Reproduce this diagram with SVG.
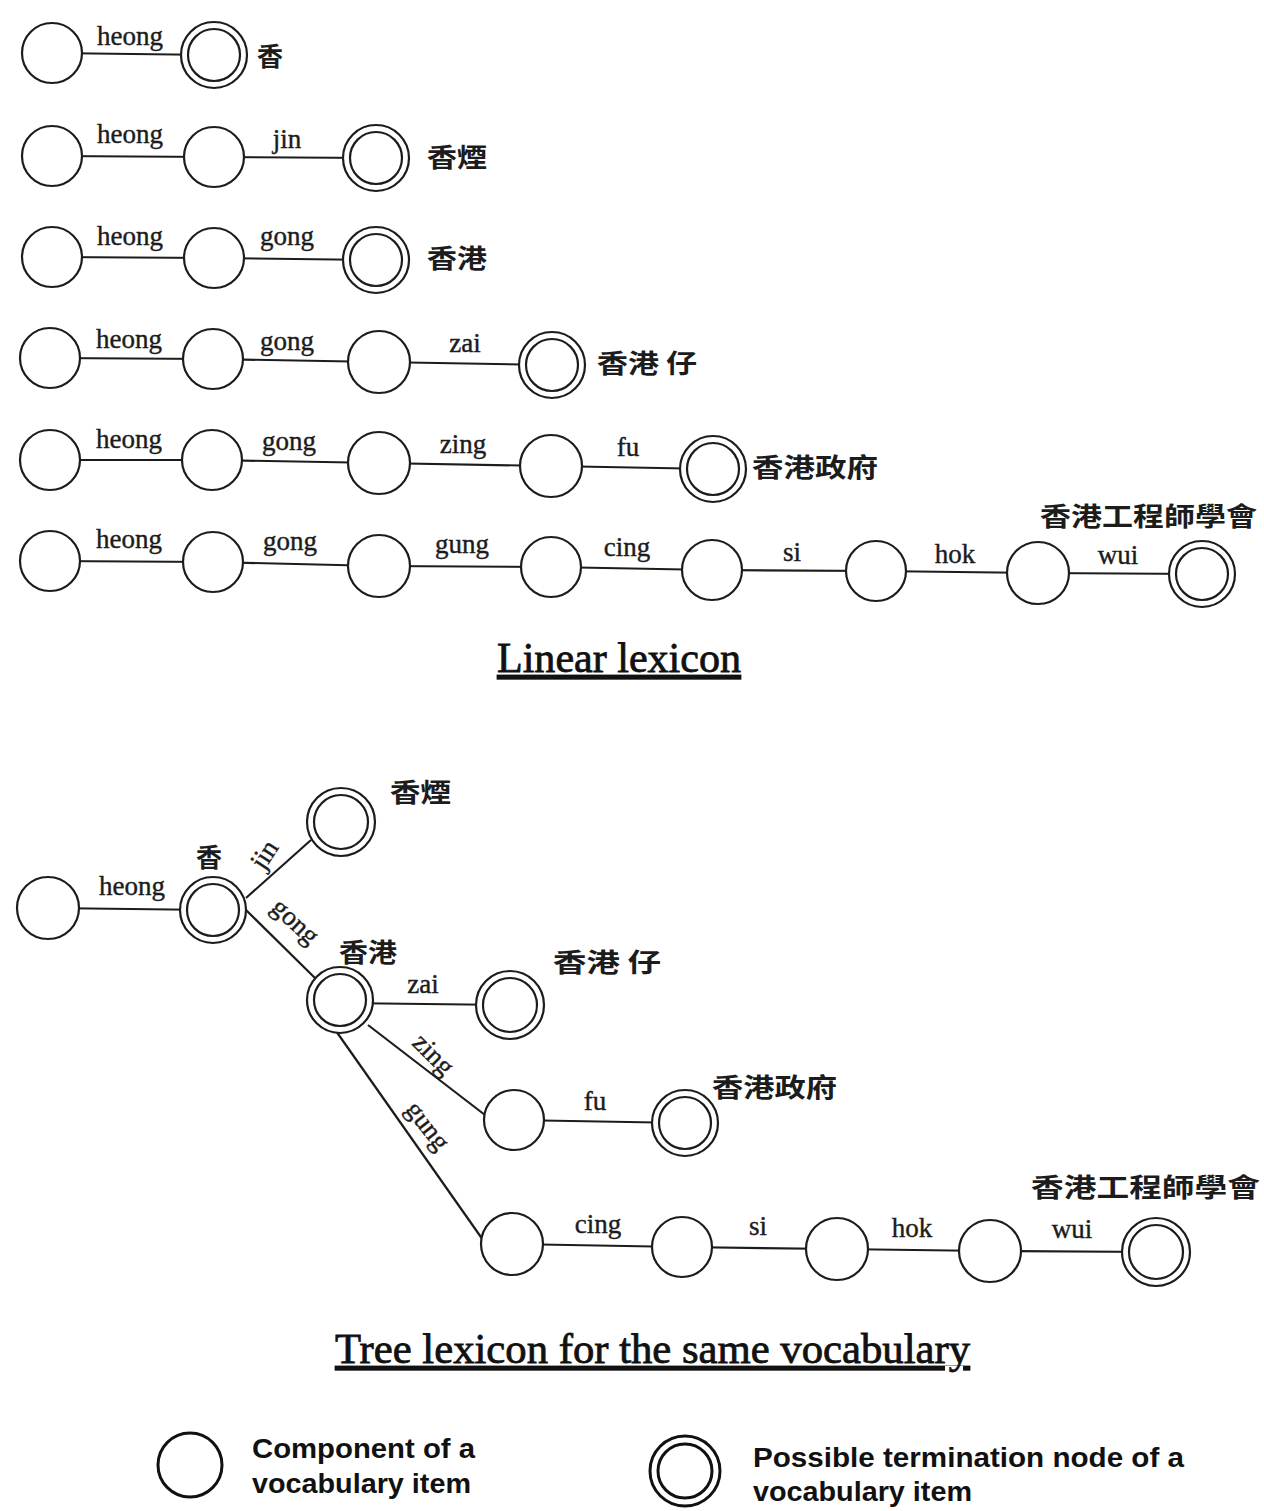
<svg xmlns="http://www.w3.org/2000/svg" width="1264" height="1511" viewBox="0 0 1264 1511">
<style>
.n{fill:#fff;stroke:#1c1c1c;stroke-width:2.2}
.e{stroke:#1c1c1c;stroke-width:2.2;fill:none}
.l{font-family:"Liberation Serif","Times New Roman",serif;font-size:27px;fill:#1c1c1c;stroke:#1c1c1c;stroke-width:0.4;text-anchor:middle}
.c{font-family:"Noto Sans CJK TC","Noto Sans CJK SC",sans-serif;font-size:26px;font-weight:700;fill:#1c1c1c}
.t{font-family:"Liberation Serif","Times New Roman",serif;font-size:42px;fill:#111;stroke:#111;stroke-width:0.8;text-decoration:underline}
.g{font-family:"Liberation Sans",Arial,sans-serif;font-size:27px;font-weight:700;fill:#111}
.ln{fill:#fff;stroke:#111;stroke-width:3}
</style>
<rect width="1264" height="1511" fill="#fff"/>

<!-- ================= CONNECTORS ================= -->
<g id="connectors">
  <line class="e" x1="52" y1="53" x2="214" y2="55"/>
  <line class="e" x1="52" y1="156" x2="214" y2="157"/>
  <line class="e" x1="214" y1="157" x2="376" y2="158"/>
  <line class="e" x1="52" y1="257" x2="214" y2="258"/>
  <line class="e" x1="214" y1="258" x2="376" y2="260"/>
  <line class="e" x1="50" y1="358" x2="213" y2="359"/>
  <line class="e" x1="213" y1="359" x2="379" y2="362"/>
  <line class="e" x1="379" y1="362" x2="552" y2="365"/>
  <line class="e" x1="50" y1="460" x2="212" y2="460"/>
  <line class="e" x1="212" y1="460" x2="379" y2="463"/>
  <line class="e" x1="379" y1="463" x2="551" y2="466"/>
  <line class="e" x1="551" y1="466" x2="713" y2="469"/>
  <line class="e" x1="50" y1="561" x2="213" y2="562"/>
  <line class="e" x1="213" y1="562" x2="379" y2="566"/>
  <line class="e" x1="379" y1="566" x2="551" y2="567"/>
  <line class="e" x1="551" y1="567" x2="712" y2="570"/>
  <line class="e" x1="712" y1="570" x2="876" y2="571"/>
  <line class="e" x1="876" y1="571" x2="1038" y2="573"/>
  <line class="e" x1="1038" y1="573" x2="1202" y2="574"/>
  <line class="e" x1="48" y1="908" x2="213" y2="910"/>
  <line class="e" x1="246" y1="898" x2="311" y2="840"/>
  <line class="e" x1="244" y1="908" x2="316" y2="979"/>
  <line class="e" x1="340" y1="1003" x2="510" y2="1005"/>
  <line class="e" x1="368" y1="1025" x2="485" y2="1115"/>
  <line class="e" x1="336" y1="1031" x2="483" y2="1240"/>
  <line class="e" x1="514" y1="1120" x2="685" y2="1123"/>
  <line class="e" x1="512" y1="1244" x2="682" y2="1247"/>
  <line class="e" x1="682" y1="1247" x2="837" y2="1249"/>
  <line class="e" x1="837" y1="1249" x2="990" y2="1251"/>
  <line class="e" x1="990" y1="1251" x2="1156" y2="1252"/>
</g>

<!-- ================= EDGE LABELS ================= -->
<g id="edge-labels">
  <text class="l" x="130" y="45">heong</text>
  <text class="l" x="130" y="143">heong</text>
  <text class="l" x="287" y="148">jin</text>
  <text class="l" x="130" y="245">heong</text>
  <text class="l" x="287" y="245">gong</text>
  <text class="l" x="129" y="348">heong</text>
  <text class="l" x="287" y="350">gong</text>
  <text class="l" x="465" y="352">zai</text>
  <text class="l" x="129" y="448">heong</text>
  <text class="l" x="289" y="450">gong</text>
  <text class="l" x="463" y="453">zing</text>
  <text class="l" x="628" y="456">fu</text>
  <text class="l" x="129" y="548">heong</text>
  <text class="l" x="290" y="550">gong</text>
  <text class="l" x="462" y="553">gung</text>
  <text class="l" x="627" y="556">cing</text>
  <text class="l" x="792" y="561">si</text>
  <text class="l" x="955" y="563">hok</text>
  <text class="l" x="1118" y="564">wui</text>

  <text class="l" x="132" y="895">heong</text>
  <text class="l" x="265" y="863" transform="rotate(-57 265 855)">jin</text>
  <text class="l" x="293" y="929" transform="rotate(43 293 924)">gong</text>
  <text class="l" x="423" y="993">zai</text>
  <text class="l" x="431" y="1062" transform="rotate(45 431 1057)">zing</text>
  <text class="l" x="425" y="1133" transform="rotate(52 425 1128)">gung</text>
  <text class="l" x="595" y="1110">fu</text>
  <text class="l" x="598" y="1233">cing</text>
  <text class="l" x="758" y="1235">si</text>
  <text class="l" x="912" y="1237">hok</text>
  <text class="l" x="1072" y="1238">wui</text>
</g>

<!-- ================= LINEAR LEXICON NODES ================= -->
<g id="r1n1"><circle class="n" cx="52" cy="53" r="30"/></g>
<g id="r1n2"><circle class="n" cx="214" cy="55" r="33"/><circle class="n" cx="214" cy="55" r="26"/><text class="c" x="257" y="66">香</text></g>

<g id="r2n1"><circle class="n" cx="52" cy="156" r="30"/></g>
<g id="r2n2"><circle class="n" cx="214" cy="157" r="30"/></g>
<g id="r2n3"><circle class="n" cx="376" cy="158" r="33"/><circle class="n" cx="376" cy="158" r="26"/><text class="c" x="427" y="167" textLength="60" lengthAdjust="spacingAndGlyphs">香煙</text></g>

<g id="r3n1"><circle class="n" cx="52" cy="257" r="30"/></g>
<g id="r3n2"><circle class="n" cx="214" cy="258" r="30"/></g>
<g id="r3n3"><circle class="n" cx="376" cy="260" r="33"/><circle class="n" cx="376" cy="260" r="26"/><text class="c" x="427" y="268" textLength="60" lengthAdjust="spacingAndGlyphs">香港</text></g>

<g id="r4n1"><circle class="n" cx="50" cy="358" r="30"/></g>
<g id="r4n2"><circle class="n" cx="213" cy="359" r="30"/></g>
<g id="r4n3"><circle class="n" cx="379" cy="362" r="31"/></g>
<g id="r4n4"><circle class="n" cx="552" cy="365" r="33"/><circle class="n" cx="552" cy="365" r="26"/><text class="c" x="597" y="373" textLength="100" lengthAdjust="spacingAndGlyphs">香港 仔</text></g>

<g id="r5n1"><circle class="n" cx="50" cy="460" r="30"/></g>
<g id="r5n2"><circle class="n" cx="212" cy="460" r="30"/></g>
<g id="r5n3"><circle class="n" cx="379" cy="463" r="31"/></g>
<g id="r5n4"><circle class="n" cx="551" cy="466" r="31"/></g>
<g id="r5n5"><circle class="n" cx="713" cy="469" r="33"/><circle class="n" cx="713" cy="469" r="26"/><text class="c" x="752" y="477" textLength="126" lengthAdjust="spacingAndGlyphs">香港政府</text></g>

<g id="r6n1"><circle class="n" cx="50" cy="561" r="30"/></g>
<g id="r6n2"><circle class="n" cx="213" cy="562" r="30"/></g>
<g id="r6n3"><circle class="n" cx="379" cy="566" r="31"/></g>
<g id="r6n4"><circle class="n" cx="551" cy="567" r="30"/></g>
<g id="r6n5"><circle class="n" cx="712" cy="570" r="30"/></g>
<g id="r6n6"><circle class="n" cx="876" cy="571" r="30"/></g>
<g id="r6n7"><circle class="n" cx="1038" cy="573" r="31"/></g>
<g id="r6n8"><circle class="n" cx="1202" cy="574" r="33"/><circle class="n" cx="1202" cy="574" r="26"/><text class="c" x="1040" y="526" textLength="217" lengthAdjust="spacingAndGlyphs">香港工程師學會</text></g>

<text class="t" x="497" y="672" textLength="244" lengthAdjust="spacingAndGlyphs">Linear lexicon</text>

<!-- ================= TREE LEXICON NODES ================= -->
<g id="t-root"><circle class="n" cx="48" cy="908" r="31"/></g>
<g id="t-heong"><circle class="n" cx="213" cy="910" r="33"/><circle class="n" cx="213" cy="910" r="26"/><text class="c" x="196" y="867">香</text></g>
<g id="t-jin"><circle class="n" cx="341" cy="822" r="34"/><circle class="n" cx="341" cy="822" r="27"/><text class="c" x="390" y="802" textLength="61" lengthAdjust="spacingAndGlyphs">香煙</text></g>
<g id="t-gong"><circle class="n" cx="340" cy="1000" r="33"/><circle class="n" cx="340" cy="1000" r="26"/><text class="c" x="339" y="962" textLength="58" lengthAdjust="spacingAndGlyphs">香港</text></g>
<g id="t-zai"><circle class="n" cx="510" cy="1005" r="34"/><circle class="n" cx="510" cy="1005" r="27"/><text class="c" x="553" y="972" textLength="108" lengthAdjust="spacingAndGlyphs">香港 仔</text></g>
<g id="t-zing"><circle class="n" cx="514" cy="1120" r="30"/></g>
<g id="t-fu"><circle class="n" cx="685" cy="1123" r="33"/><circle class="n" cx="685" cy="1123" r="26"/><text class="c" x="712" y="1097" textLength="125" lengthAdjust="spacingAndGlyphs">香港政府</text></g>
<g id="t-gung"><circle class="n" cx="512" cy="1244" r="31"/></g>
<g id="t-cing"><circle class="n" cx="682" cy="1247" r="30"/></g>
<g id="t-si"><circle class="n" cx="837" cy="1249" r="31"/></g>
<g id="t-hok"><circle class="n" cx="990" cy="1251" r="31"/></g>
<g id="t-wui"><circle class="n" cx="1156" cy="1252" r="34"/><circle class="n" cx="1156" cy="1252" r="27"/><text class="c" x="1031" y="1197" textLength="229" lengthAdjust="spacingAndGlyphs">香港工程師學會</text></g>

<text class="t" x="335" y="1363" textLength="635" lengthAdjust="spacingAndGlyphs">Tree lexicon for the same vocabulary</text>

<!-- ================= LEGEND ================= -->
<g id="legend-component">
  <circle class="ln" cx="190" cy="1465" r="32"/>
  <text class="g" x="252" y="1458" textLength="223" lengthAdjust="spacingAndGlyphs">Component of a</text>
  <text class="g" x="252" y="1493" textLength="219" lengthAdjust="spacingAndGlyphs">vocabulary item</text>
</g>
<g id="legend-termination">
  <circle class="ln" cx="685" cy="1471" r="35"/>
  <circle class="ln" cx="685" cy="1471" r="27"/>
  <text class="g" x="753" y="1467" textLength="431" lengthAdjust="spacingAndGlyphs">Possible termination node of a</text>
  <text class="g" x="753" y="1501" textLength="219" lengthAdjust="spacingAndGlyphs">vocabulary item</text>
</g>
</svg>
